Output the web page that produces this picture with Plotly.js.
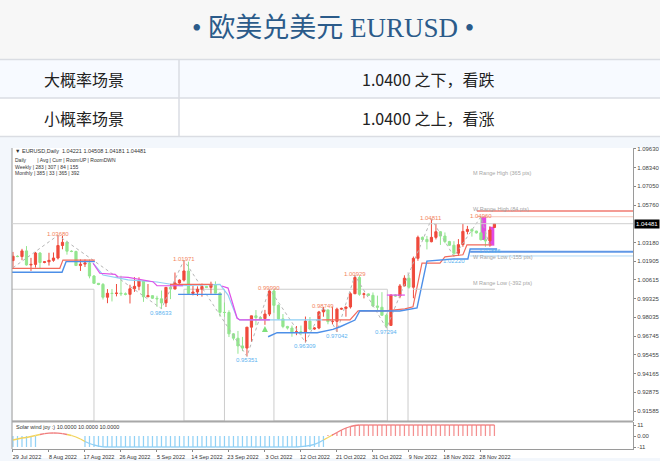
<!DOCTYPE html>
<html><head><meta charset="utf-8">
<script src="https://cdn.plot.ly/plotly-3.0.1.min.js"></script>
<style>html,body{margin:0;padding:0;background:#fff;}#chart{width:660px;height:461px;}</style>
</head><body><div id="chart"></div>
<script>
// ---------------- DATA ----------------
const titleText = '• 欧美兑美元 EURUSD •';
const scenarioNames = ['大概率场景', '小概率场景'];
const scenarioViews = ['1.0400 之下，看跌', '1.0400 之上，看涨'];

const dateTickIdx = [0,8,16,24,32,40,48,56,64,72,80,88,96,104];
const dateTickText = ['29 Jul 2022','8 Aug 2022','17 Aug 2022','26 Aug 2022','5 Sep 2022','14 Sep 2022','23 Sep 2022','3 Oct 2022','12 Oct 2022','21 Oct 2022','31 Oct 2022','9 Nov 2022','18 Nov 2022','28 Nov 2022'];

const priceTicks = [1.09630,1.08340,1.07050,1.05760,1.03180,1.01905,1.00615,0.99325,0.98035,0.96745,0.95455,0.94165,0.92875,0.91585];
const lastPrice = 1.04481;

const openP = [1.0194,1.0224,1.0222,1.0261,1.0164,1.0168,1.0246,1.0181,1.0186,1.0196,1.0212,1.0298,1.0320,1.0259,1.0257,1.0160,1.0170,1.0178,1.0088,1.0038,
1.0030,0.9942,0.9969,0.9968,0.9970,0.9966,0.9962,1.0000,1.0017,1.0054,0.9945,0.9953,0.9935,0.9931,0.9903,1.0010,0.9998,1.0040,1.0060,1.0123,
0.9968,0.9978,0.9997,1.0016,1.0010,1.0027,0.9970,0.9838,0.9837,0.9690,0.9660,0.9607,0.9592,0.9736,0.9814,0.9802,0.9795,0.9826,0.9985,0.9886,
0.9793,0.9741,0.9730,0.9703,0.9704,0.9702,0.9778,0.9723,0.9730,0.9841,0.9855,0.9774,0.9776,0.9860,0.9865,0.9875,0.9966,1.0078,0.9962,0.9965,
0.9955,0.9882,0.9873,0.9818,0.9748,0.9958,0.9950,1.0020,1.0073,1.0011,1.0210,1.0354,1.0340,1.0324,1.0354,1.0393,1.0363,1.0325,1.0300,1.0245,
1.0304,1.0395,1.0409,1.0397,1.0385,1.0338,1.0330,1.0422];
const highP = [1.0254,1.0230,1.0275,1.0294,1.0213,1.0254,1.0253,1.0190,1.0248,1.0250,1.0368,1.0364,1.0331,1.0265,1.0262,1.0202,1.0202,1.0202,1.0095,1.0040,
1.0040,0.9998,0.9999,1.0033,1.0090,0.9975,1.0028,1.0080,1.0079,1.0055,1.0033,0.9955,0.9952,0.9988,1.0011,1.0030,1.0112,1.0065,1.0197,1.0187,
1.0020,1.0017,1.0036,1.0020,1.0049,1.0051,0.9976,0.9906,0.9852,0.9695,0.9710,0.9669,0.9737,0.9815,0.9854,0.9810,0.9855,0.9999,0.9998,0.9893,
0.9826,0.9745,0.9747,0.9744,0.9747,0.9809,0.9806,0.9735,0.9848,0.9875,0.9856,0.9876,0.9870,0.9870,0.9876,0.9976,1.0093,1.0088,0.9974,0.9968,
0.9975,0.9953,0.9977,0.9830,0.9958,0.9962,1.0033,1.0093,1.0096,1.0222,1.0366,1.0360,1.0364,1.0481,1.0448,1.0398,1.0388,1.0330,1.0328,1.0342,
1.0447,1.0433,1.0415,1.0400,1.0496,1.0396,1.0430,1.0451];
const lowP = [1.0145,1.0218,1.0197,1.0160,1.0123,1.0146,1.0141,1.0176,1.0160,1.0186,1.0202,1.0272,1.0235,1.0252,1.0160,1.0123,1.0150,1.0072,1.0034,1.0025,
0.9926,0.9901,0.9913,0.9948,0.9950,0.9955,0.9899,0.9979,0.9990,0.9910,0.9945,0.9930,0.9876,0.9863,0.9875,0.9929,0.9998,1.0035,1.0050,0.9966,
0.9955,0.9950,0.9946,1.0005,0.9966,0.9970,0.9809,0.9807,0.9668,0.9645,0.9553,0.9571,0.9535,0.9635,0.9749,0.9790,0.9752,0.9812,0.9835,0.9788,
0.9729,0.9720,0.9670,0.9681,0.9680,0.9631,0.9715,0.9718,0.9722,0.9808,0.9756,0.9755,0.9704,0.9855,0.9808,0.9864,0.9964,0.9952,0.9934,0.9950,
0.9874,0.9853,0.9815,0.9729,0.9746,0.9945,0.9935,1.0017,1.0001,0.9935,1.0193,1.0330,1.0271,1.0320,1.0340,1.0302,1.0314,1.0295,1.0222,1.0226,
1.0289,1.0375,1.0359,1.0380,1.0332,1.0289,1.0290,1.0418];
const closeP = [1.0224,1.0222,1.0261,1.0164,1.0168,1.0246,1.0181,1.0186,1.0196,1.0212,1.0298,1.0320,1.0259,1.0257,1.0160,1.0170,1.0178,1.0088,1.0038,1.0030,
0.9942,0.9969,0.9968,0.9970,0.9966,0.9962,1.0000,1.0017,1.0054,0.9945,0.9953,0.9935,0.9931,0.9903,1.0010,0.9998,1.0040,1.0060,1.0123,0.9968,
0.9978,0.9997,1.0016,1.0010,1.0027,0.9970,0.9838,0.9837,0.9690,0.9660,0.9607,0.9592,0.9736,0.9814,0.9802,0.9795,0.9826,0.9985,0.9886,0.9793,
0.9741,0.9730,0.9703,0.9704,0.9702,0.9778,0.9723,0.9730,0.9841,0.9855,0.9774,0.9776,0.9860,0.9865,0.9875,0.9966,1.0078,0.9962,0.9965,0.9955,
0.9882,0.9873,0.9818,0.9748,0.9958,0.9950,1.0020,1.0073,1.0011,1.0210,1.0354,1.0340,1.0324,1.0354,1.0393,1.0363,1.0325,1.0300,1.0245,1.0304,
1.0395,1.0409,1.0397,1.0385,1.0338,1.0330,1.0405,1.0448];

// highlighted (magenta) blocks
const hlX = [104.6, 106.4];
const hlLow = [1.0336, 1.0297];
const hlHigh = [1.0496, 1.0427];

// zigzag pivots
const zzX = [0,10,33,38,52,57,65,69,72,76,83,93,98,104,106];
const zzV = [1.0145,1.03680,0.98633,1.01971,0.95351,0.99990,0.96309,0.98749,0.97042,1.00929,0.97294,1.04811,1.02220,1.04960,1.02886];
const pivHighX = [10,38,57,69,76,93,104];
const pivHighV = [1.03680,1.01971,0.99990,0.98749,1.00929,1.04811,1.04960];
const pivLowX = [33,52,65,72,83,98,106];
const pivLowV = [0.98633,0.95351,0.96309,0.97042,0.97294,1.02220,1.02886];

// indicator step lines (bar index, price); null = gap
const redX = [-0.3,10.4,11.1,18.2,null,34.9,44.4,null,68.7,74.9,76.7,82.7,87.1,88.9,90.9,94.9,96.0,100.0,100.9,106.4];
const redV = [1.0141,1.0141,1.0198,1.0198,null,1.0031,1.0031,null,0.9786,0.9786,0.9848,0.9848,0.9862,0.9876,1.0177,1.0177,1.0220,1.0234,1.0303,1.0303];
const blueX = [-0.3,10.9,11.8,18.2,null,36.7,46.4,null,56.7,58.7,67.6,71.1,72.7,76.0,77.1,82.7,86.0,89.8,92.0,97.8,101.1,101.6,107.6];
const blueV = [1.0114,1.0114,1.0187,1.0187,null,0.9962,0.9962,null,0.9670,0.9698,0.9698,0.9721,0.9739,0.9785,0.9849,0.9849,0.9847,0.9868,1.0191,1.0205,1.0205,1.0274,1.0274];
const lblueX = [17.8,20.0,25.6,32.0,37.1,46.0,47.8,49.8,50.4,68.7];
const lblueV = [1.0177,1.0095,1.0061,1.0047,1.0021,1.0031,0.9957,0.9799,0.9786,0.9786];
const magX = [17.8,19.3,22.7,23.3,25.6,31.1,32.0,37.8,null,46.4,47.8,49.8,50.4,57.1,null,83.1,87.1];
const magV = [1.0176,1.0107,1.0100,1.0083,1.0079,1.0049,1.0021,1.0021,null,1.0019,1.0005,0.9799,0.9786,0.9786,null,0.9957,0.9957];

// signal arrow
const sigX = [56];
const sigV = [0.9744];

// range levels
const rangeLineStart = [103.1, 103.1, 101.6, 101.6];
const rangeLineLevel = [1.0535, 1.0496, 1.0255, 1.0226];
const mLowStart = 88.9, mLowEnd = 107.1, mLowLevel = 0.9997;
const rangeLabels = ['M Range High (365 pts)','W Range High (84 pts)','W Range Low (-155 pts)','M Range Low (-392 pts)'];
const rangeLabelLevel = [1.0799, 1.0551, 1.0216, 1.0040];
const rangeLabelX = 102.0;

// gray period boxes
const boxLeft = [-0.3, 38.0, 58.0];
const boxRight = [18.0, 47.0, 83.2];
const boxTop = 0.9997;
const extraSepX = [87.8];
const extraSepTop = [1.0115];

// Solar wind joy indicator
const swLine = [-4,-3,-2,-1.5,-0.5,0.5,
 1.5,2.3,2.8,3,2.8,2.3,1.5,0.5,-1,
 -3,-5.5,-7.5,-9,-10.2,-10.8,
 -11,-11,-11,-11,-11,-11,-11,-11,-11,-11,-11,-11,-11,-11,-11,-11,-11,-11,-11,-11,-11,-11,-11,-11,-11,-11,-11,-11,-11,-11,-11,-11,-11,-11,-11,-11,-11,-11,-11,-11,-11,-11,-11,
 -10.7,-10.2,-9.5,-8.3,-6.5,-4,-1.5,1,3.5,6,8,9.5,10.5,11,
 11,11,11,11,11,11,11,11,11,11,11,11,11,11,11,11,11,11,11,11,11,11,11,11,11,11,11,11,11,11];
const swBars = [-11,-11,-11,-11,-11,-11,
 0,0,0,0,0,0,0,0,0,0,
 -11,-11,-11,-11,-11,-11,-11,-11,-11,-11,-11,-11,-11,-11,-11,-11,-11,-11,-11,-11,-11,-11,-11,-11,-11,-11,-11,-11,-11,-11,-11,-11,-11,-11,-11,-11,-11,-11,-11,-11,-11,-11,-11,-11,-11,-11,-11,-11,-11,-11,-11,-11,-11,-11,
 1,2,3.5,6,8,9.5,10.5,11,
 11,11,11,11,11,11,11,11,11,11,11,11,11,11,11,11,11,11,11,11,11,11,11,11,11,11,11,11,11,11];

// ---------------- LAYOUT HELPERS ----------------
const W = 660, H = 461;
const fx = p => p / W;
const fy = p => 1 - p / H;
const xRange = [-0.22, 137.8];
const yRange = [0.90902, 1.09691];
const idx = openP.map((_, i) => i);
const FONT = 'Liberation Sans, Arial, sans-serif';
const CJK = 'Liberation Serif, Noto Sans CJK SC, serif';

const traces = [];
traces.push({type:'bar', x:hlX, base:hlLow, y:hlHigh.map((h,i)=>h-hlLow[i]), width:1.15,
  marker:{color:'#e24be2', line:{width:0}}, xaxis:'x', yaxis:'y', hoverinfo:'skip'});
traces.push({type:'candlestick', x:idx, open:openP, high:highP, low:lowP, close:closeP,
  xaxis:'x', yaxis:'y', whiskerwidth:0,
  increasing:{line:{color:'#ef4a3c', width:1}, fillcolor:'#ef4a3c'},
  decreasing:{line:{color:'#93e58f', width:1}, fillcolor:'#93e58f'},
  hoverinfo:'skip'});
traces.push({type:'scatter', mode:'lines', x:zzX, y:zzV, line:{color:'#b5b5b5', width:1, dash:'dot'}, xaxis:'x', yaxis:'y', hoverinfo:'skip'});
traces.push({type:'scatter', mode:'lines', x:lblueX, y:lblueV, line:{color:'#8fcff5', width:1.2}, xaxis:'x', yaxis:'y', hoverinfo:'skip'});
traces.push({type:'scatter', mode:'lines', x:magX, y:magV, line:{color:'#e050e8', width:1.2}, xaxis:'x', yaxis:'y', hoverinfo:'skip'});
traces.push({type:'scatter', mode:'lines', x:redX, y:redV, line:{color:'#f26a5c', width:1.2}, xaxis:'x', yaxis:'y', hoverinfo:'skip'});
traces.push({type:'scatter', mode:'lines', x:blueX, y:blueV, line:{color:'#4d8fe8', width:1.4}, xaxis:'x', yaxis:'y', hoverinfo:'skip'});
traces.push({type:'scatter', mode:'markers', x:sigX, y:sigV, marker:{symbol:'arrow-up', size:6, color:'#7ee07a'}, xaxis:'x', yaxis:'y', hoverinfo:'skip'});
traces.push({type:'bar', x:idx, y:swBars, width:0.28,
  marker:{color:swBars.map(v => v >= 0 ? '#f49090' : '#92d2f6'), line:{width:0}},
  xaxis:'x', yaxis:'y2', hoverinfo:'skip'});
const segCol = v => v >= 1.5 ? '#f07c7c' : (v >= -4.5 ? '#f2d35a' : '#8fcff5');
const segs = {};
for (let i = 0; i < swLine.length - 1; i++) {
  const c = segCol((swLine[i] + swLine[i+1]) / 2);
  if (!segs[c]) segs[c] = {x:[], y:[]};
  segs[c].x.push(i, i+1, null);
  segs[c].y.push(swLine[i], swLine[i+1], null);
}
Object.keys(segs).forEach(c => traces.push({type:'scatter', mode:'lines', x:segs[c].x, y:segs[c].y,
  line:{color:c, width:1.3}, xaxis:'x', yaxis:'y2', hoverinfo:'skip', connectgaps:false}));

// ---------------- SHAPES ----------------
const shapes = [];
const rectP = (x0,y0,x1,y1,fill) => shapes.push({type:'rect', xref:'paper', yref:'paper', x0:fx(x0), x1:fx(x1), y0:fy(y0), y1:fy(y1), fillcolor:fill, line:{width:0}, layer:'below'});
const lineP = (x0,y0,x1,y1,col,w) => shapes.push({type:'line', xref:'paper', yref:'paper', x0:fx(x0), x1:fx(x1), y0:fy(y0), y1:fy(y1), line:{color:col, width:w}, layer:'above'});
rectP(0,0,660,59.5,'#f7f7f7');
rectP(0,59.5,660,98,'#f7faff');
rectP(0,98,660,136.5,'#ffffff');
rectP(0,136.5,660,461,'#f3f7fc');
rectP(12,148,660,458,'#ffffff');
lineP(0,59.5,660,59.5,'#dadde3',1.5);
lineP(0,98,660,98,'#dadde3',1.5);
lineP(0,136.5,660,136.5,'#dadde3',1.5);
lineP(179,59.5,179,136.5,'#dadde3',1.5);
lineP(12,148,12,449,'#9a9a9a',1);
lineP(12,421.5,633,421.5,'#a8a8a8',2);
shapes.push({type:'line', xref:'paper', yref:'y', x0:fx(12), x1:fx(633), y0:lastPrice, y1:lastPrice, line:{color:'#cfcfcf', width:1}});
boxLeft.forEach((l,k) => shapes.push({type:'rect', xref:'x', yref:'y', x0:l, x1:boxRight[k], y0:yRange[0], y1:boxTop, line:{color:'#cccccc', width:1}, fillcolor:'rgba(0,0,0,0)', layer:'below'}));
extraSepX.forEach((x,k) => shapes.push({type:'line', xref:'x', yref:'y', x0:x, x1:x, y0:yRange[0], y1:extraSepTop[k], line:{color:'#cccccc', width:1}, layer:'below'}));
const rangeStyles = [{c:'#f07a70', w:1.5},{c:'#f9c4b8', w:1},{c:'#5f97e6', w:2},{c:'#aed8f6', w:1}];
rangeLineLevel.forEach((lv,k) => shapes.push({type:'line', xref:'x', yref:'y', x0:rangeLineStart[k], x1:xRange[1], y0:lv, y1:lv, line:{color:rangeStyles[k].c, width:rangeStyles[k].w}}));
shapes.push({type:'line', xref:'x', yref:'y', x0:mLowStart, x1:mLowEnd, y0:mLowLevel, y1:mLowLevel, line:{color:'#c4c4c4', width:1}});

// ---------------- ANNOTATIONS ----------------
const ann = [];
ann.push({xref:'paper', yref:'paper', x:fx(333), y:fy(28), text:titleText, showarrow:false,
  font:{family:CJK, size:27, color:'#2b5b8a'}, xanchor:'center', yanchor:'middle'});
scenarioNames.forEach((s,k) => {
  const yc = k === 0 ? 79 : 117.5;
  ann.push({xref:'paper', yref:'paper', x:fx(84), y:fy(yc), text:s, showarrow:false, font:{family:'Noto Sans CJK SC', size:16, color:'#222'}, xanchor:'center', yanchor:'middle'});
  ann.push({xref:'paper', yref:'paper', x:fx(428), y:fy(yc), text:scenarioViews[k], showarrow:false, font:{family:'Noto Sans CJK SC', size:16, color:'#222'}, xanchor:'center', yanchor:'middle'});
});
// chart header texts
ann.push({xref:'paper', yref:'paper', x:fx(14), y:fy(151.5), text:'▼ EURUSD,Daily  1.04221 1.04508 1.04181 1.04481', showarrow:false, font:{family:FONT, size:5.5, color:'#333'}, xanchor:'left', yanchor:'middle', borderpad:0});
ann.push({xref:'paper', yref:'paper', x:fx(14), y:fy(155.5), text:'Daily        | Avg | Curr | RoomUP | RoomDWN<br>Weekly | 283 | 307 | 84 | 155<br>Monthly | 385 | 33 | 365 | 392', showarrow:false, font:{family:FONT, size:5, color:'#333'}, xanchor:'left', yanchor:'top', align:'left', borderpad:0});
ann.push({xref:'paper', yref:'paper', x:fx(14), y:fy(427), text:'Solar wind joy :) 10.0000 10.0000 10.0000', showarrow:false, font:{family:FONT, size:5.5, color:'#333'}, xanchor:'left', yanchor:'middle'});
pivHighX.forEach((x,k) => ann.push({xref:'x', yref:'y', x:x, y:pivHighV[k], text:pivHighV[k].toFixed(5), showarrow:false, font:{family:FONT, size:6, color:'#f3845e'}, xanchor:'center', yanchor:'middle', yshift:1, borderpad:0}));
pivLowX.forEach((x,k) => ann.push({xref:'x', yref:'y', x:x, y:pivLowV[k], text:pivLowV[k].toFixed(5), showarrow:false, font:{family:FONT, size:6, color:'#5cb3f0'}, xanchor:'center', yanchor:'top', yshift:0, borderpad:0}));
rangeLabels.forEach((t,k) => ann.push({xref:'x', yref:'y', x:rangeLabelX, y:rangeLabelLevel[k], text:t, showarrow:false, font:{family:FONT, size:5.5, color:'#a6a6a6'}, xanchor:'left', yanchor:'middle', borderpad:0}));
ann.push({xref:'paper', yref:'y', x:fx(634), y:lastPrice, text:lastPrice.toFixed(5), showarrow:false, bgcolor:'#000', font:{family:FONT, size:6, color:'#fff'}, xanchor:'left', yanchor:'middle', borderpad:1});

const layout = {
  width:W, height:H, margin:{l:0,r:0,t:0,b:0}, paper_bgcolor:'#ffffff', plot_bgcolor:'rgba(0,0,0,0)',
  showlegend:false, barmode:'overlay', hovermode:false,
  xaxis:{domain:[fx(12), fx(633)], range:xRange, anchor:'y2', showgrid:false, zeroline:false,
    rangeslider:{visible:false}, tickvals:dateTickIdx, ticktext:dateTickText, ticks:'outside', ticklen:2, tickcolor:'#888',
    tickfont:{family:FONT, size:5.5, color:'#333'}, ticklabelshift:14, ticklabelstandoff:0,
    showline:true, linecolor:'#9a9a9a', linewidth:1},
  yaxis:{domain:[fy(421), fy(148)], range:yRange, anchor:'x', side:'right', showgrid:false, zeroline:false,
    tickvals:priceTicks, ticktext:priceTicks.map(v=>v.toFixed(5)), ticks:'outside', ticklen:2, tickcolor:'#888',
    tickfont:{family:FONT, size:6, color:'#444'}, showline:true, linecolor:'#9a9a9a', linewidth:1},
  yaxis2:{domain:[fy(449), fy(422)], range:[-13,14], anchor:'x', side:'right', showgrid:false, zeroline:false,
    tickvals:[11,0,-11], ticktext:['11','0.00','-11'], ticks:'outside', ticklen:2, tickcolor:'#888',
    tickfont:{family:FONT, size:6, color:'#444'}, showline:true, linecolor:'#9a9a9a', linewidth:1},
  shapes:shapes, annotations:ann
};
Plotly.newPlot('chart', traces, layout, {staticPlot:true, displayModeBar:false});
</script></body></html>
